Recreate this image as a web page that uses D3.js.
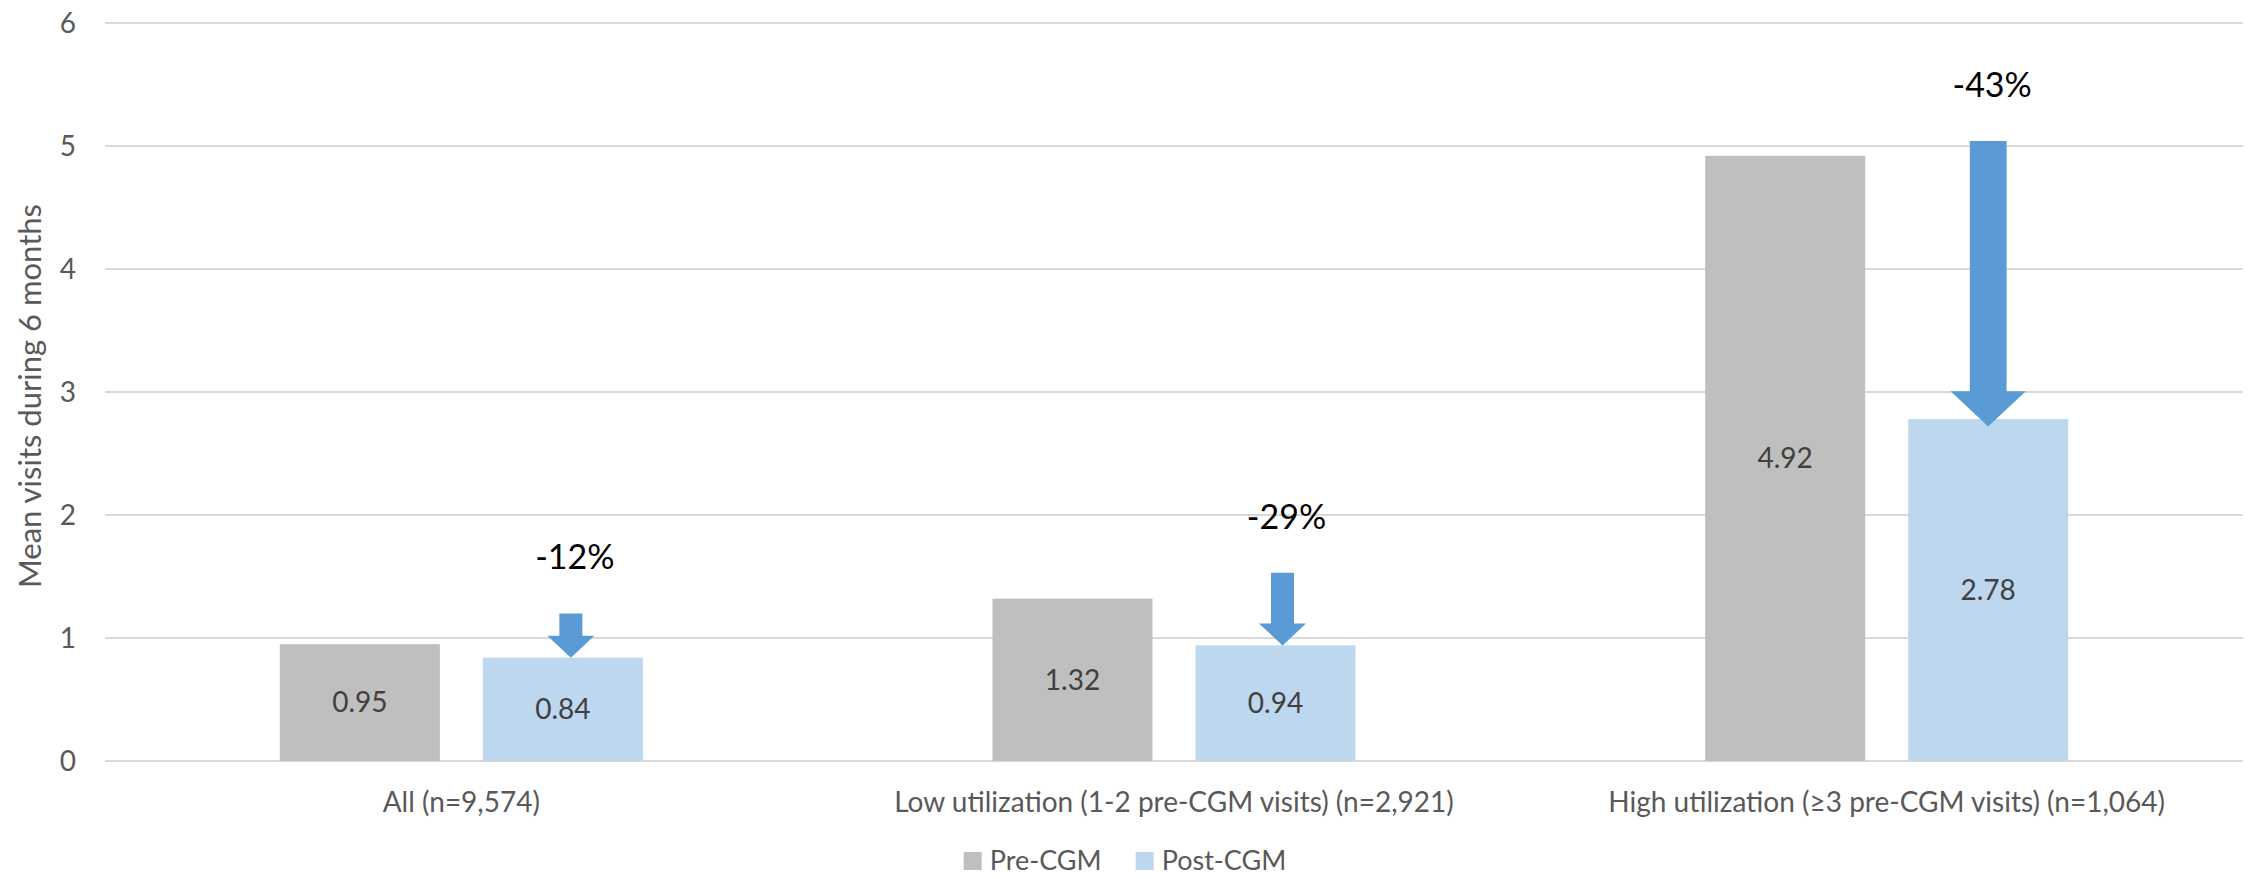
<!DOCTYPE html>
<html>
<head>
<meta charset="utf-8">
<script src="https://cdnjs.cloudflare.com/ajax/libs/d3/7.8.5/d3.min.js"></script>
<style>
  html, body { margin: 0; padding: 0; background: #fff; }
  svg { display: block; font-family: Lato, "Open Sans", sans-serif; }
  .grid line { stroke: #d9d9d9; stroke-width: 2; }
  .tick-label { fill: #595959; font-size: 28px; }
  .cat-label { fill: #595959; font-size: 28px; }
  .value-label { fill: #404040; font-size: 28px; }
  .pct-label { fill: #000; font-size: 34px; }
  .legend text { fill: #595959; font-size: 27px; }
</style>
</head>
<body>
<div id="container"></div>
<script>
var categories = [
  "All (n=9,574)",
  "Low utilization (1-2 pre-CGM visits) (n=2,921)",
  "High utilization (\u22653 pre-CGM visits) (n=1,064)"
];
var series = ["Pre-CGM", "Post-CGM"];
var preValues = [0.95, 1.32, 4.92];
var postValues = [0.84, 0.94, 2.78];
var changeLabels = ["-12%", "-29%", "-43%"];
// arrow extents in axis units (top of shaft, tip)
var arrowTop = [1.2, 1.53, 5.04];
var arrowEnd = [0.84, 0.94, 2.72];
var arrowScale = [1, 1, 1.6];
var yTicks = [0, 1, 2, 3, 4, 5, 6];

var width = 2250, height = 879;
var colors = { "Pre-CGM": "#bfbfbf", "Post-CGM": "#bdd7ee" };
var arrowColor = "#5b9bd5";

var svg = d3.select("#container")
  .append("svg")
  .attr("width", width)
  .attr("height", height);

var x0 = d3.scaleBand()
  .domain(categories)
  .range([105, 2243]);

var x1 = d3.scaleBand()
  .domain(series)
  .range([0, x0.bandwidth()])
  .paddingInner(0.212)
  .paddingOuter(0.861);

var y = d3.scaleLinear()
  .domain([0, 6])
  .range([761, 23]);

// gridlines
svg.append("g")
  .classed("grid", true)
  .selectAll("line")
  .data(yTicks)
  .enter()
  .append("line")
  .attr("x1", 105)
  .attr("x2", 2243)
  .attr("y1", function (d) { return y(d); })
  .attr("y2", function (d) { return y(d); });

// y tick labels
svg.append("g")
  .selectAll("text")
  .data(yTicks)
  .enter()
  .append("text")
  .classed("tick-label", true)
  .attr("x", 76)
  .attr("y", function (d) { return y(d); })
  .attr("dy", "0.35em")
  .attr("text-anchor", "end")
  .text(function (d) { return d; });

svg.append("text")
  .attr("transform", "translate(30," + ((y(0) + y(6)) / 2 + 4) + ") rotate(-90)")
  .attr("text-anchor", "middle")
  .attr("dy", "0.35em")
  .style("fill", "#595959")
  .style("font-size", "31px")
  .text("Mean visits during 6 months");

var rows = categories.map(function (c, i) {
  return { cat: c, values: [
    { key: "Pre-CGM", value: preValues[i] },
    { key: "Post-CGM", value: postValues[i] }
  ] };
});

var groups = svg.append("g")
  .selectAll("g")
  .data(rows)
  .enter()
  .append("g")
  .attr("transform", function (d) { return "translate(" + x0(d.cat) + ",0)"; });

groups.selectAll("rect")
  .data(function (d) { return d.values; })
  .enter()
  .append("rect")
  .attr("x", function (d) { return x1(d.key); })
  .attr("y", function (d) { return y(d.value); })
  .attr("width", x1.bandwidth())
  .attr("height", function (d) { return y(0) - y(d.value); })
  .attr("fill", function (d) { return colors[d.key]; });

groups.selectAll("text.value-label")
  .data(function (d) { return d.values; })
  .enter()
  .append("text")
  .classed("value-label", true)
  .attr("x", function (d) { return x1(d.key) + x1.bandwidth() / 2; })
  .attr("y", function (d) { return (y(d.value) + y(0)) / 2; })
  .attr("dy", "0.35em")
  .attr("text-anchor", "middle")
  .text(function (d) { return d.value.toFixed(2); });

// category labels
svg.append("g")
  .selectAll("text")
  .data(categories)
  .enter()
  .append("text")
  .classed("cat-label", true)
  .attr("x", function (d) { return x0(d) + x0.bandwidth() / 2; })
  .attr("y", 812)
  .attr("text-anchor", "middle")
  .text(function (d) { return d; });

// arrows showing the drop
var arrowNudge = [8, 7, 0];
function arrowPath(i) {
  var cx = x0(categories[i]) + x1("Post-CGM") + x1.bandwidth() / 2 + arrowNudge[i];
  var s = arrowScale[i];
  var shaft = 11.5 * s, head = 23.5 * s, headLen = 22 * s;
  var top = y(arrowTop[i]), tip = y(arrowEnd[i]);
  var hs = tip - headLen;
  return "M" + (cx - shaft) + "," + top +
    "L" + (cx + shaft) + "," + top +
    "L" + (cx + shaft) + "," + hs +
    "L" + (cx + head) + "," + hs +
    "L" + cx + "," + tip +
    "L" + (cx - head) + "," + hs +
    "L" + (cx - shaft) + "," + hs + "Z";
}

svg.append("g")
  .selectAll("path")
  .data(categories)
  .enter()
  .append("path")
  .attr("d", function (d, i) { return arrowPath(i); })
  .attr("fill", arrowColor);

svg.append("g")
  .selectAll("text")
  .data(changeLabels)
  .enter()
  .append("text")
  .classed("pct-label", true)
  .attr("x", function (d, i) { return x0(categories[i]) + x1("Post-CGM") + x1.bandwidth() / 2 + arrowNudge[i] + 4; })
  .attr("y", function (d, i) { return y(arrowTop[i]) - 44; })
  .attr("text-anchor", "middle")
  .text(function (d) { return d; });

// legend
var legend = svg.append("g").classed("legend", true);
var items = legend.selectAll("g")
  .data(series)
  .enter()
  .append("g");

items.append("rect")
  .attr("width", 18)
  .attr("height", 18)
  .attr("y", 852)
  .attr("fill", function (d) { return colors[d]; });

items.append("text")
  .attr("x", 26)
  .attr("y", 870)
  .text(function (d) { return d; });

var offsets = [], total = 0;
items.each(function () {
  var w = 26 + this.querySelector("text").getComputedTextLength();
  offsets.push(total);
  total += w + 34;
});
total -= 34;
var startX = width / 2 - total / 2;
items.attr("transform", function (d, i) { return "translate(" + (startX + offsets[i]) + ",0)"; });
</script>
</body>
</html>
